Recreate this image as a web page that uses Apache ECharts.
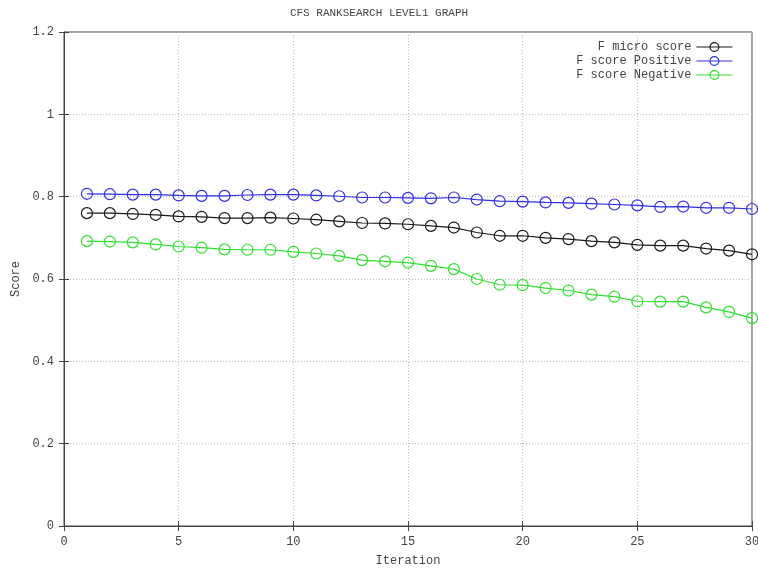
<!DOCTYPE html>
<html>
<head>
<meta charset="utf-8">
<script src="https://cdn.jsdelivr.net/npm/echarts@6/dist/echarts.min.js"></script>
<style>
  html, body { margin: 0; padding: 0; background: #fff; }
  #chart { width: 758px; height: 571px; }
</style>
</head>
<body>
<div id="chart"></div>
<script>
// Iterations 1..30
const iterations = [1,2,3,4,5,6,7,8,9,10,11,12,13,14,15,16,17,18,19,20,21,22,23,24,25,26,27,28,29,30];

const fMicro = [0.760,0.760,0.758,0.756,0.752,0.751,0.748,0.748,0.749,0.747,0.744,0.740,0.736,0.735,0.733,0.729,0.725,0.713,0.705,0.705,0.700,0.697,0.692,0.689,0.683,0.681,0.681,0.674,0.669,0.660];
const fPositive = [0.807,0.806,0.805,0.805,0.803,0.802,0.802,0.804,0.805,0.805,0.803,0.801,0.798,0.798,0.797,0.796,0.798,0.793,0.789,0.788,0.786,0.785,0.783,0.781,0.779,0.775,0.776,0.773,0.773,0.770];
const fNegative = [0.692,0.691,0.689,0.684,0.679,0.676,0.672,0.671,0.671,0.666,0.662,0.656,0.646,0.643,0.640,0.632,0.624,0.600,0.586,0.585,0.578,0.572,0.562,0.557,0.546,0.545,0.545,0.531,0.520,0.505];

const seriesNames = ['F micro score', 'F score Positive', 'F score Negative'];
const seriesColors = ['#1a1a1a', '#3030e0', '#30e030'];
const seriesData = [fMicro, fPositive, fNegative];

const FONT = '"Liberation Mono", "DejaVu Sans Mono", monospace';
const TEXT = '#444';
const CLEAR = 'rgba(255,255,255,0)';

const chart = echarts.init(document.getElementById('chart'), null, { renderer: 'canvas' });

const pair = arr => arr.map((v, i) => [iterations[i], v]);

const gridLine = { show: true, lineStyle: { color: '#bbb', type: [1, 2], width: 1 } };
const tick = { show: true, inside: true, length: 5, lineStyle: { color: '#444' } };

chart.setOption({
  animation: false,
  backgroundColor: '#fff',
  title: {
    text: 'CFS RANKSEARCH LEVEL1 GRAPH',
    left: 'center',
    top: 3,
    textStyle: { fontFamily: FONT, fontSize: 11, fontWeight: 'normal', color: TEXT }
  },
  legend: {
    orient: 'vertical',
    right: 20,
    top: 36,
    align: 'right',
    itemWidth: 36,
    itemHeight: 11,
    itemGap: 2,
    lineStyle: { width: 1.2 },
    itemStyle: { borderWidth: 1.2 },
    textStyle: { fontFamily: FONT, fontSize: 12, color: TEXT },
    data: seriesNames
  },
  grid: {
    left: 64, right: 6, top: 32, bottom: 45,
    outerBoundsMode: 'none', containLabel: false,
    show: true, borderColor: '#444', borderWidth: 1, backgroundColor: 'transparent'
  },
  xAxis: [{
    type: 'value', min: 0, max: 30, interval: 5,
    name: 'Iteration', nameLocation: 'middle', nameGap: 29,
    nameTextStyle: { fontFamily: FONT, fontSize: 12, color: TEXT },
    axisLine: { show: true, lineStyle: { color: '#444' } },
    axisTick: tick,
    axisLabel: { fontFamily: FONT, fontSize: 12, color: TEXT, margin: 10 },
    splitLine: gridLine
  }, {
    type: 'value', min: 0, max: 30, interval: 5, position: 'top',
    axisLine: { show: false }, axisTick: tick,
    axisLabel: { show: false }, splitLine: { show: false }
  }],
  yAxis: [{
    type: 'value', min: 0, max: 1.2, interval: 0.2,
    name: 'Score', nameLocation: 'middle', nameGap: 40, nameRotate: 90,
    nameTextStyle: { fontFamily: FONT, fontSize: 12, color: TEXT },
    axisLine: { show: true, lineStyle: { color: '#444' } },
    axisTick: tick,
    axisLabel: { fontFamily: FONT, fontSize: 12, color: TEXT, margin: 10 },
    splitLine: gridLine
  }, {
    type: 'value', min: 0, max: 1.2, interval: 0.2, position: 'right',
    axisLine: { show: false }, axisTick: tick,
    axisLabel: { show: false }, splitLine: { show: false }
  }],
  series: seriesNames.map((name, k) => ({
    name,
    type: 'line',
    data: pair(seriesData[k]),
    symbol: 'circle',
    symbolSize: 11,
    color: seriesColors[k],
    lineStyle: { width: 1.2, color: seriesColors[k] },
    itemStyle: { color: CLEAR, borderColor: seriesColors[k], borderWidth: 1.2 }
  }))
});
</script>
</body>
</html>
